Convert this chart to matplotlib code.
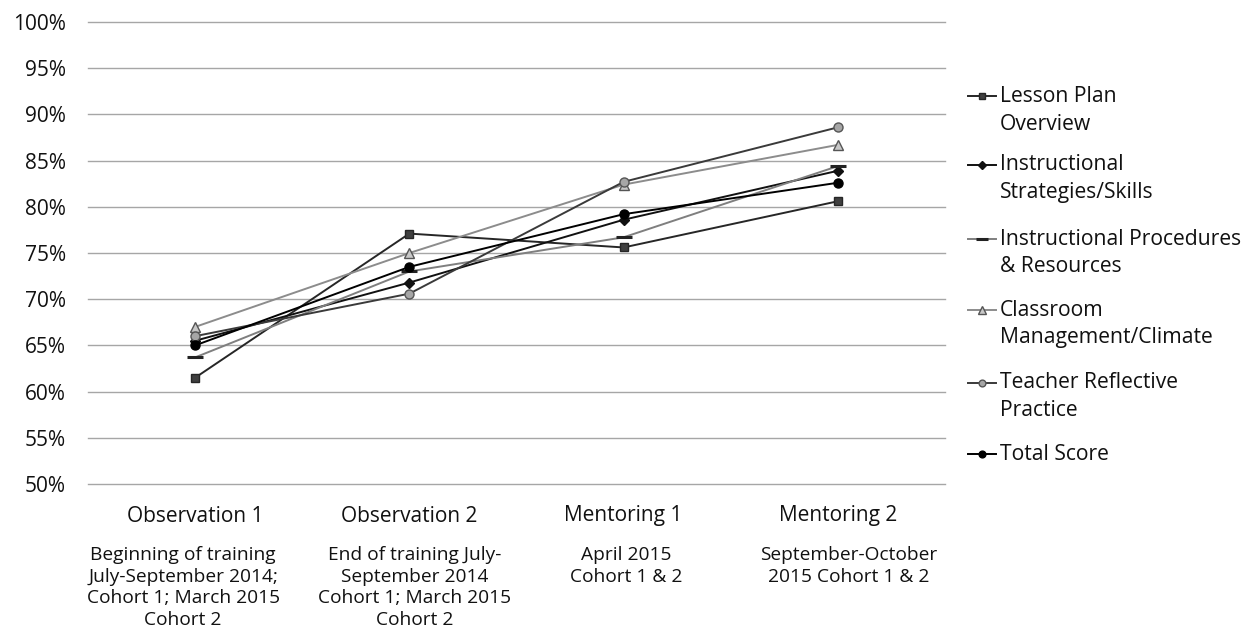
import matplotlib
matplotlib.use("Agg")
import matplotlib.pyplot as plt
from matplotlib.lines import Line2D

plt.rcParams['font.family'] = ['Open Sans', 'DejaVu Sans']

# Observation stages
stages = ["Observation 1", "Observation 2", "Mentoring 1", "Mentoring 2"]
stage_notes = [
    ["Beginning of training", "July-September 2014;", "Cohort 1; March 2015", "Cohort 2"],
    ["End of training July-", "September 2014", "Cohort 1; March 2015", "Cohort 2"],
    ["April 2015", "Cohort 1 & 2"],
    ["September-October", "2015 Cohort 1 & 2"],
]

# Percentage scores per domain
lesson_plan = [61.5, 77.1, 75.6, 80.6]
instr_strategies = [65.5, 71.8, 78.6, 83.9]
instr_procedures = [63.7, 73.0, 76.7, 84.4]
classroom_mgmt = [67.0, 75.0, 82.4, 86.7]
teacher_reflective = [66.0, 70.6, 82.7, 88.6]
total_score = [65.0, 73.5, 79.2, 82.6]

y_ticks = [50, 55, 60, 65, 70, 75, 80, 85, 90, 95, 100]

series = [
    (["Lesson Plan", "Overview"], lesson_plan,
     dict(color="#262626", marker="s", markerfacecolor="#404040", markeredgecolor="#262626", markersize=6)),
    (["Instructional", "Strategies/Skills"], instr_strategies,
     dict(color="#111111", marker="D", markerfacecolor="#111111", markeredgecolor="#111111", markersize=5)),
    (["Instructional Procedures", "& Resources"], instr_procedures,
     dict(color="#7f7f7f", marker="_", markerfacecolor="#222222", markeredgecolor="#222222", markersize=11, markeredgewidth=2.2)),
    (["Classroom", "Management/Climate"], classroom_mgmt,
     dict(color="#8c8c8c", marker="^", markerfacecolor="#c8c8c8", markeredgecolor="#555555", markersize=7)),
    (["Teacher Reflective", "Practice"], teacher_reflective,
     dict(color="#3a3a3a", marker="o", markerfacecolor="#a6a6a6", markeredgecolor="#555555", markersize=6.5)),
    (["Total Score"], total_score,
     dict(color="#000000", marker="o", markerfacecolor="#000000", markeredgecolor="#000000", markersize=6.5)),
]

W, H = 1246, 639
PX = 72 / 100  # points per pixel at 100 dpi

fig = plt.figure(figsize=(W / 100, H / 100), dpi=100)
ax = fig.add_axes([88 / W, 1 - 484 / H, (945 - 88) / W, (484 - 22) / H])

x = list(range(len(stages)))
for label, vals, style in series:
    ax.plot(x, vals, linewidth=1.4, zorder=3, clip_on=False, **style)

ax.set_xlim(-0.5, len(stages) - 0.5)
ax.set_ylim(50, 100)
ax.set_yticks(y_ticks)
ax.set_yticklabels([f"{t}%" for t in y_ticks], fontsize=15, color="#111111")
for t in y_ticks:
    ax.axhline(t, color="#a6a6a6", linewidth=1.0, zorder=0, clip_on=False)
ax.tick_params(axis="y", length=0, pad=22 * PX)
ax.tick_params(axis="x", length=0)
ax.set_xticks(x)
ax.set_xticklabels([])
for s in ax.spines.values():
    s.set_visible(False)

# Stage names and their date notes under the axis
note_shift = [-12, 5, 3, 11]
for xi, name, note, dx in zip(x, stages, stage_notes, note_shift):
    ax.annotate(name, xy=(xi, 0), xycoords=("data", "axes fraction"),
                xytext=(0, -32 * PX), textcoords="offset points",
                ha="center", va="center", fontsize=15, color="#111111")
    for i, line in enumerate(note):
        ax.annotate(line, xy=(xi, 0), xycoords=("data", "axes fraction"),
                    xytext=(dx * PX, -(71 + i * 21.6) * PX), textcoords="offset points",
                    ha="center", va="center", fontsize=13.8, color="#111111")

# Legend drawn beside the plot
entry_y = [96, 165, 239, 310, 383, 454]
for (label, vals, style), yy in zip(series, entry_y):
    yf = 1 - yy / H
    ln = Line2D([968 / W, 996 / W], [yf, yf], transform=fig.transFigure,
                linewidth=1.4, color=style["color"])
    fig.add_artist(ln)
    mk = dict(style)
    mk.pop("color")
    mk["markersize"] = mk["markersize"] * 0.75
    mkl = Line2D([982 / W], [yf], transform=fig.transFigure, linestyle="none", **mk)
    fig.add_artist(mkl)
    for i, line in enumerate(label):
        fig.text(1000 / W, 1 - (yy + i * 28) / H, line, ha="left", va="center",
                 fontsize=15.2, color="#111111")

fig.savefig("out.png", dpi=100, facecolor="white")
